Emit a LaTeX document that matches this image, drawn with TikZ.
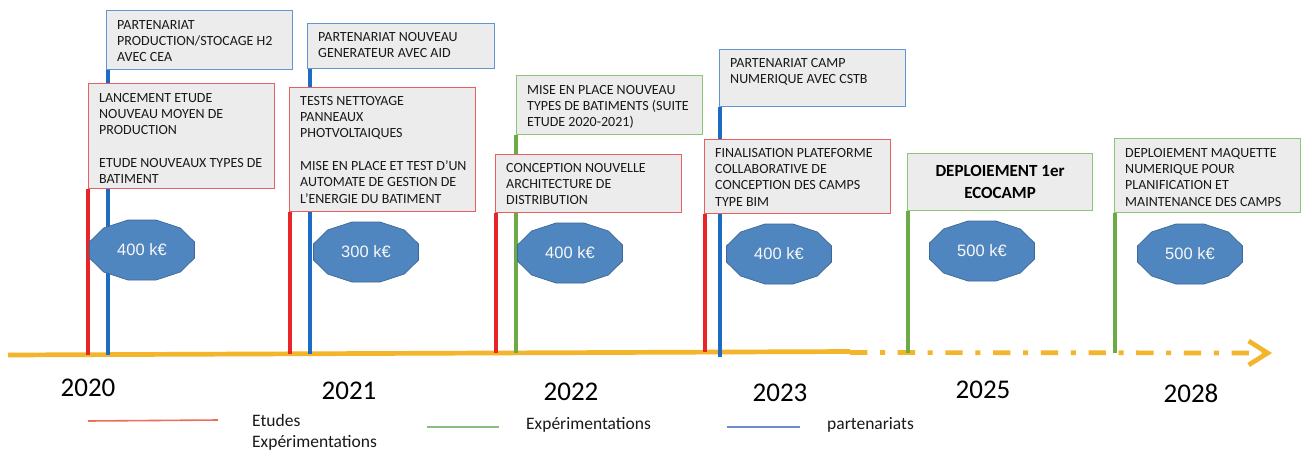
\documentclass[tikz,border=0pt]{standalone}
\usepackage{fontspec}
\setmainfont{Carlito}
\newfontfamily\arialf{Liberation Sans}
\usetikzlibrary{arrows.meta}
\pgfdeclarelayer{bottom}
\pgfdeclarelayer{markers}
\pgfsetlayers{bottom,markers,main}
\definecolor{redl}{RGB}{232,38,40}
\definecolor{bluel}{RGB}{28,108,196}
\definecolor{greenl}{RGB}{108,170,72}
\definecolor{redbd}{RGB}{229,96,96}
\definecolor{bluebd}{RGB}{96,150,210}
\definecolor{greenbd}{RGB}{140,196,120}
\definecolor{boxfill}{RGB}{236,236,236}
\definecolor{axisc}{RGB}{243,181,44}
\definecolor{ellfill}{RGB}{80,134,192}
\definecolor{elldraw}{RGB}{62,102,150}
\definecolor{txtc}{RGB}{25,25,25}
\definecolor{legred}{RGB}{234,110,90}
\definecolor{leggreen}{RGB}{140,190,125}
\definecolor{legblue}{RGB}{110,140,205}
\newcommand\tlbox[8]{% name, border color, x, y, w, h, text offset y, text
  \node[boxshape=#2, minimum width=#5pt, minimum height=#6pt] (#1) at (#3,#4) {};
  \node[boxtxt] (#1t) at ([xshift=11pt,yshift=-#7pt]#1.north west) {#8};}
\newcommand\budget[4]{% name, cx, cy, text
  \draw[ellshape] plot[samples at={15,45,...,345}] ({#2+54.35*cos(\x)},{#3+31.06*sin(\x)}) -- cycle;
  \node[elltxt] (#1) at (#2,#3) {#4};}
\begin{document}
\begin{tikzpicture}[x=1pt,y=-1pt,
  boxshape/.style={draw=#1, fill=boxfill, line width=1.1pt, anchor=north west, inner sep=0pt},
  boxtxt/.style={anchor=north west, inner sep=0pt, align=left, text=txtc, font=\fontsize{14}{16.3}\selectfont},
  ellshape/.style={fill=ellfill, draw=elldraw, line width=0.7pt},
  elltxt/.style={inner sep=0pt, text=white!94!gray, font=\arialf\fontsize{16.5}{16.5}\selectfont},
  redv/.style={draw=redl, line width=4pt},
  bluev/.style={draw=bluel, line width=3.5pt},
  greenv/.style={draw=greenl, line width=3.2pt},
  axisl/.style={draw=axisc, line width=4.7pt},
  year/.style={inner sep=0pt, text=black, font=\fontsize{27}{27}\selectfont},
  legtxt/.style={inner sep=0pt, anchor=west, align=left, text=txtc, font=\fontsize{17.5}{21}\selectfont},
  legline/.style={line width=1.6pt}]
\useasboundingbox (0,0) rectangle (1301,456);
\begin{pgfonlayer}{bottom}
\fill[white] (0,0) rectangle (1301,456);
% axis
\coordinate (ax0) at (8,355);
\coordinate (ax1) at (850,351.5);
\coordinate (ax2) at (1272,353);
\draw[axisl] (ax0) -- (ax1);
\draw[axisl, dash pattern=on 17.3pt off 12.7pt on 5pt off 12.7pt,
  -{Straight Barb[length=19pt,width=24pt]}] (850,352.5) -- (ax2);
\end{pgfonlayer}
% axis end points of the markers
\coordinate (r20) at (88,354.5);
\coordinate (b20) at (108,354.5);
\coordinate (r21) at (290,354);
\coordinate (b21) at (310,354);
\coordinate (r22) at (496,353);
\coordinate (g22) at (516,353);
\coordinate (r23) at (705,352);
\coordinate (b23) at (720,357);
\coordinate (g25) at (908,352.5);
\coordinate (g28) at (1115,353);
% boxes
\tlbox{A}{bluebd}{106}{10}{186}{59}{10}{PARTENARIAT\\PRODUCTION/STOCAGE H2\\AVEC CEA}
\tlbox{B}{redbd}{88}{83}{186}{105}{10}{LANCEMENT ETUDE\\NOUVEAU MOYEN DE\\PRODUCTION\\[16.3pt]ETUDE NOUVEAUX TYPES DE\\BATIMENT}
\tlbox{C}{bluebd}{307}{23}{187}{45}{9}{PARTENARIAT NOUVEAU\\GENERATEUR AVEC AID}
\tlbox{D}{redbd}{289}{87}{186}{124}{9}{TESTS NETTOYAGE\\PANNEAUX\\PHOTVOLTAIQUES\\[16.3pt]MISE EN PLACE ET TEST D’UN\\AUTOMATE DE GESTION DE\\L’ENERGIE DU BATIMENT}
\tlbox{E}{greenbd}{516}{75}{186}{59}{10}{MISE EN PLACE NOUVEAU\\TYPES DE BATIMENTS (SUITE\\ETUDE 2020-2021)}
\tlbox{F}{redbd}{495}{154}{186}{58}{9}{CONCEPTION NOUVELLE\\ARCHITECTURE DE\\DISTRIBUTION}
\tlbox{G}{bluebd}{719}{49}{186}{57}{9}{PARTENARIAT CAMP\\NUMERIQUE AVEC CSTB}
\tlbox{H}{redbd}{704}{139}{186}{74}{9}{FINALISATION PLATEFORME\\COLLABORATIVE DE\\CONCEPTION DES CAMPS\\TYPE BIM}
\node[boxshape=greenbd, minimum width=185pt, minimum height=57pt, align=center, text=black,
  font=\bfseries\fontsize{17}{21.5}\selectfont] (I) at (907,153) {DEPLOIEMENT 1er\\ECOCAMP};
\tlbox{J}{greenbd}{1114}{138}{186.4}{74}{10}{DEPLOIEMENT MAQUETTE\\NUMERIQUE POUR\\PLANIFICATION ET\\MAINTENANCE DES CAMPS}
% vertical markers, behind boxes and budgets
\begin{pgfonlayer}{markers}
\draw[redv] (B.south west -| r20) -- (r20);
\draw[bluev] (A.south west -| b20) -- (b20);
\draw[redv] (D.south west -| r21) -- (r21);
\draw[bluev] (C.south west -| b21) -- (b21);
\draw[redv] (F.south west -| r22) -- (r22);
\draw[greenv] (E.south west -| g22) -- (g22);
\draw[redv] (H.south west -| r23) -- (r23);
\draw[bluev] (G.south west -| b23) -- (b23);
\draw[greenv] (I.south west -| g25) -- (g25);
\draw[greenv] (J.south west -| g28) -- (g28);
\end{pgfonlayer}
% budgets
\budget{k20}{142}{250}{400 k€}
\budget{k21}{366}{252}{300 k€}
\budget{k22}{570}{253}{400 k€}
\budget{k23}{779}{254}{400 k€}
\budget{k25}{982}{251}{500 k€}
\budget{k28}{1190}{254}{500 k€}
% years
\node[year] (y20) at (88,388) {2020};
\node[year] (y21) at (349,391) {2021};
\node[year] (y22) at (571,392) {2022};
\node[year] (y23) at (780,393) {2023};
\node[year] (y25) at (983,390) {2025};
\node[year] (y28) at (1191,393) {2028};
% legend
\coordinate (lr0) at (88,421); \coordinate (lr1) at (218,420);
\coordinate (lg0) at (427,427); \coordinate (lg1) at (499,427);
\coordinate (lb0) at (727,427); \coordinate (lb1) at (800,427);
\draw[legline, legred] (lr0) -- (lr1);
\draw[legline, leggreen] (lg0) -- (lg1);
\draw[legline, legblue] (lb0) -- (lb1);
\node[legtxt, anchor=north west] (l1) at (252,414) {Etudes\\Expérimentations};
\node[legtxt] (l2) at (526,425) {Expérimentations};
\node[legtxt] (l3) at (827,425) {partenariats};
\end{tikzpicture}
\end{document}
